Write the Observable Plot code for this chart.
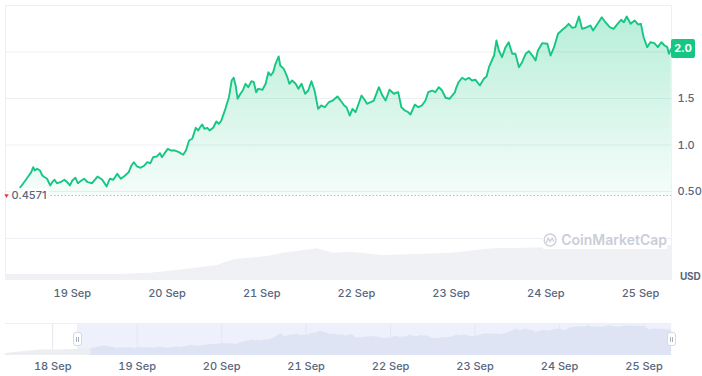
<!DOCTYPE html>
<html><head><meta charset="utf-8">
<script src="https://cdn.jsdelivr.net/npm/d3@7"></script>
<script src="https://cdn.jsdelivr.net/npm/@observablehq/plot@0.6"></script>
<style>
body{margin:0;background:#fff;font-family:Inter,sans-serif;}
#wrap{position:relative;width:702px;height:376px;overflow:hidden;background:#fff;}
#wrap .p{position:absolute;left:0;}
#wrap svg text{font-weight:500;}
.frame{position:absolute;left:5px;top:5px;width:665px;height:275px;border-left:1px solid #eef0f3;border-right:1px solid #eef0f3;}
.badge{position:absolute;left:671px;width:24px;height:19px;background:#16c784;color:#fff;font:700 11px Inter,sans-serif;line-height:19px;text-align:center;border-radius:2px;}
.wm{position:absolute;left:543px;top:230px;width:124px;height:19px;background:#fff;display:flex;align-items:center;gap:4px;color:#c9ced8;font:600 14px Inter,sans-serif;}
.usd{position:absolute;left:680px;top:270px;font:700 10px Inter,sans-serif;color:#58667e;letter-spacing:-0.2px;}
.handle{position:absolute;width:9px;height:14px;background:#fff;border:1px solid #d5d9e2;border-radius:3px;box-sizing:border-box;display:flex;justify-content:center;align-items:center;gap:1px;}
.handle span{display:block;width:1px;height:5px;background:#a6b0c3;}
</style></head><body><div id="wrap"></div>
<script>
// ---- data (hours since 18 Sep 00:00 UTC) ----
const priceHours = [10.8,11.5,12.1,13.0,13.6,14.1,14.5,15.1,15.8,16.4,17.0,17.6,18.4,18.9,19.5,20.1,21.0,22.0,22.7,23.4,24.0,24.8,25.4,26.3,27.0,27.9,29.0,30.4,31.6,32.7,33.5,34.4,35.4,36.3,37.4,38.3,39.0,39.6,40.4,41.3,42.3,43.0,43.8,44.5,45.4,46.2,46.7,47.6,48.2,49.0,49.9,51.0,52.1,52.8,53.6,54.4,54.8,55.3,55.9,56.3,56.9,57.5,58.2,58.8,59.7,60.5,61.1,61.7,62.8,63.7,64.4,64.9,65.4,65.9,66.6,67.2,67.9,68.6,69.4,70.0,70.6,71.1,72.2,73.0,73.7,74.3,74.9,75.5,76.3,76.7,77.6,78.5,79.0,79.7,80.6,81.3,82.1,83.0,83.8,84.6,85.4,86.3,87.1,88.0,89.0,90.0,91.2,92.0,92.9,93.5,94.3,95.0,95.8,96.4,97.3,97.9,98.7,99.6,100.4,101.7,102.6,103.4,104.4,105.5,106.6,107.4,108.3,109.1,109.7,110.8,111.7,112.6,113.5,114.2,115.2,116.0,116.9,117.7,118.6,119.6,121.0,121.2,121.9,122.8,123.6,124.5,125.3,126.2,127.3,128.3,129.0,129.6,130.5,130.9,131.5,132.1,132.9,133.8,134.6,135.5,136.3,137.2,138.0,138.9,139.7,140.6,141.4,142.0,143.1,144.4,145.2,146.1,147.1,148.2,149.0,149.8,150.7,151.5,152.4,153.2,154.5,155.3,156.0,157.0,158.2,159.1,160.2,161.2,162.2,163.1,163.8,164.5,165.5,166.5,167.4,168.1,168.8,169.7,170.5,171.5,172.4,173.3,174.1,174.8,175.2,175.8];
const priceValues = [0.546,0.583,0.618,0.672,0.708,0.761,0.726,0.744,0.726,0.672,0.654,0.637,0.565,0.600,0.626,0.589,0.600,0.626,0.600,0.565,0.618,0.647,0.589,0.618,0.637,0.600,0.589,0.661,0.626,0.554,0.637,0.626,0.690,0.637,0.672,0.708,0.780,0.815,0.769,0.755,0.780,0.815,0.804,0.869,0.876,0.912,0.869,0.923,0.959,0.941,0.941,0.923,0.895,0.941,1.048,1.067,1.120,1.185,1.156,1.185,1.220,1.174,1.185,1.156,1.185,1.253,1.228,1.256,1.389,1.514,1.694,1.723,1.640,1.497,1.551,1.586,1.658,1.622,1.686,1.675,1.568,1.604,1.594,1.658,1.783,1.747,1.783,1.873,1.952,1.855,1.819,1.729,1.658,1.694,1.658,1.604,1.658,1.551,1.586,1.686,1.586,1.389,1.425,1.406,1.460,1.478,1.522,1.478,1.425,1.406,1.317,1.389,1.353,1.425,1.532,1.497,1.443,1.460,1.478,1.622,1.532,1.478,1.594,1.551,1.568,1.406,1.371,1.353,1.328,1.435,1.406,1.425,1.478,1.568,1.586,1.568,1.622,1.586,1.508,1.497,1.568,1.604,1.675,1.723,1.701,1.723,1.694,1.701,1.640,1.712,1.737,1.837,1.927,1.962,2.124,2.016,1.944,2.052,2.105,1.981,1.981,1.837,1.890,1.981,2.009,1.962,1.909,2.016,2.095,2.088,1.962,2.052,2.196,2.239,2.267,2.303,2.260,2.267,2.382,2.249,2.267,2.285,2.231,2.296,2.374,2.320,2.267,2.249,2.303,2.346,2.320,2.382,2.303,2.339,2.296,2.303,2.159,2.052,2.105,2.095,2.052,2.105,2.070,2.052,1.981,2.035];

const volumeHours  = [7.07,20,35.5,43.8,52.2,60.8,64.9,73.5,77.6,86.1,90.2,94.5,102.9,111.5,119.9,130.7,145.2,162.2,175.9];
const volumeValues = [6,6,6,7.3,10.7,15,20.7,24,27.3,31.7,27.3,28.3,25,26,27.3,31.7,32.7,34,35];

const navPreHours  = [-13.4,-10,-7.2,-3.5,0.8,3.6,6.5,10.8];
const navPreValues = [0.16,0.25,0.34,0.44,0.44,0.46,0.48,0.546];

const viewHours = [7.07, 175.86];
const navHours  = [-13.4, 175.8];
const atlValue = 0.4571;
const atlLabel = "0.4571";
const yTicks = [0.5, 1.0, 1.5];
const yTickLabels = ["0.50", "1.0", "1.5"];
const gridValues = [0.5, 1.0, 1.5, 2.0, 2.5];
const mainTickDays = ["2023-09-19","2023-09-20","2023-09-21","2023-09-22","2023-09-23","2023-09-24","2023-09-25"];
const navTickDays  = ["2023-09-18","2023-09-19","2023-09-20","2023-09-21","2023-09-22","2023-09-23","2023-09-24","2023-09-25"];
const badgeLabel = "2.0";

// ---- build ----
const base = Date.UTC(2023, 8, 18);
const toDate = h => new Date(base + h * 3600e3);
const n = Math.min(priceHours.length, priceValues.length);
const price = d3.range(n).map(i => ({date: toDate(priceHours[i]), price: priceValues[i]}));
const volume = volumeHours.map((h, i) => ({date: toDate(h), vol: volumeValues[i]}));
const navPre = navPreHours.map((h, i) => ({date: toDate(h), price: navPreValues[i]}));
const mainDomain = viewHours.map(toDate);
const navDomain = navHours.map(toDate);
const fmt = d3.utcFormat("%-d %b");
const mainTicks = mainTickDays.map(d => new Date(d + "T00:00:00Z"));
const navTicks = navTickDays.map(d => new Date(d + "T00:00:00Z"));

const style = {background: "transparent", fontFamily: "Inter, sans-serif", fontSize: "11px", color: "#58667e", overflow: "visible"};

const gradient = () => {
  const defs = d3.create("svg:defs");
  const lg = defs.append("linearGradient").attr("id", "priceFill")
    .attr("gradientUnits", "userSpaceOnUse").attr("x1", 0).attr("x2", 0).attr("y1", 5).attr("y2", 196);
  lg.append("stop").attr("offset", "0%").attr("stop-color", "#16c784").attr("stop-opacity", 0.32);
  lg.append("stop").attr("offset", "100%").attr("stop-color", "#16c784").attr("stop-opacity", 0.04);
  return defs.node();
};

const main = Plot.plot({
  width: 702, height: 205, marginLeft: 5, marginRight: 31, marginTop: 5, marginBottom: 4.7,
  style,
  x: {type: "utc", domain: mainDomain, axis: null},
  y: {domain: [0.4, 2.5], axis: null},
  marks: [
    gradient,
    Plot.ruleY(gridValues, {stroke: "#eceff3"}),
    Plot.areaY(price, {x: "date", y1: atlValue, y2: "price", fill: "url(#priceFill)"}),
    Plot.ruleY([atlValue], {stroke: "#b4bbc8", strokeDasharray: "1.5,2"}),
    Plot.lineY(price, {x: "date", y: "price", stroke: "#16c784", strokeWidth: 1.9}),
    Plot.axisY({anchor: "right", ticks: yTicks, tickSize: 0, tickPadding: 6,
      tickFormat: d => yTickLabels[yTicks.indexOf(d)]}),
    Plot.text([{date: mainDomain[0], v: atlValue}], {x: "date", y: "v", text: () => atlLabel, dx: 6,
      textAnchor: "start", fill: "#58667e", stroke: "white", strokeWidth: 6, fontSize: 11}),
    Plot.dot([{date: mainDomain[0], v: atlValue}], {x: "date", y: "v", symbol: "triangle", r: 1.6,
      fill: "#ea3943", rotate: 180, dx: 1})
  ]
});

const vol = Plot.plot({
  width: 702, height: 75, marginLeft: 5, marginRight: 31, marginTop: 8, marginBottom: 25,
  style,
  x: {type: "utc", domain: mainDomain, axis: null},
  y: {domain: [0, 42], axis: null},
  marks: [
    Plot.ruleY([42], {stroke: "#eceff3"}),
    Plot.areaY(volume, {x: "date", y: "vol", fill: "#eff1f5"}),
    Plot.axisX({ticks: mainTicks, tickSize: 0, tickPadding: 9, tickFormat: fmt})
  ]
});

const nav = Plot.plot({
  width: 702, height: 61, marginLeft: 5, marginRight: 31, marginTop: 8, marginBottom: 21,
  style,
  x: {type: "utc", domain: navDomain, axis: null},
  y: {domain: [0, 2.54], axis: null},
  marks: [
    Plot.rect([{a: mainDomain[0], b: mainDomain[1]}], {x1: "a", x2: "b", y1: 0, y2: 2.54, fill: "#eef1fc"}),
    Plot.ruleX(navTicks, {y1: 0, y2: 2.54, stroke: "#e4e7ee"}),
    Plot.ruleY([2.54], {stroke: "#eceff3"}),
    Plot.areaY(navPre, {x: "date", y: "price", fill: "#eceef2"}),
    Plot.areaY(price, {x: "date", y: "price", fill: "#dfe4f5"}),
    Plot.axisX({ticks: navTicks, tickSize: 0, tickPadding: 7, tickFormat: fmt})
  ]
});

const wrap = document.getElementById("wrap");
const frame = document.createElement("div"); frame.className = "frame"; wrap.appendChild(frame);
[[main, 0], [vol, 230], [nav, 315]].forEach(([el, top]) => {
  el.classList.add("p"); el.style.top = top + "px"; wrap.appendChild(el);
});

// current price badge
const last = price[price.length - 1];
const badge = document.createElement("div");
badge.className = "badge"; badge.textContent = badgeLabel;
badge.style.top = (main.scale("y").apply(last.price) - 9.5) + "px";
wrap.appendChild(badge);

// watermark
const wm = document.createElement("div"); wm.className = "wm";
wm.innerHTML = '<svg width="18" height="18" viewBox="0 0 18 18"><circle cx="9" cy="9" r="7.5" fill="none" stroke="#cdd2db" stroke-width="1.8"/><path d="M4.5 12 L6.5 6.5 L9 11 L11.5 6.5 L13.5 10.5" fill="none" stroke="#cdd2db" stroke-width="1.8" stroke-linejoin="round" stroke-linecap="round"/></svg><span>CoinMarketCap</span>';
wrap.appendChild(wm);

const usd = document.createElement("div"); usd.className = "usd"; usd.textContent = "USD"; wrap.appendChild(usd);

// navigator handles
const nx = nav.scale("x");
mainDomain.forEach(d => {
  const h = document.createElement("div"); h.className = "handle";
  h.innerHTML = "<span></span><span></span>";
  h.style.left = (nx.apply(d) - 4.5) + "px";
  h.style.top = (315 + 24 - 7) + "px";
  wrap.appendChild(h);
});
</script>
</body></html>
